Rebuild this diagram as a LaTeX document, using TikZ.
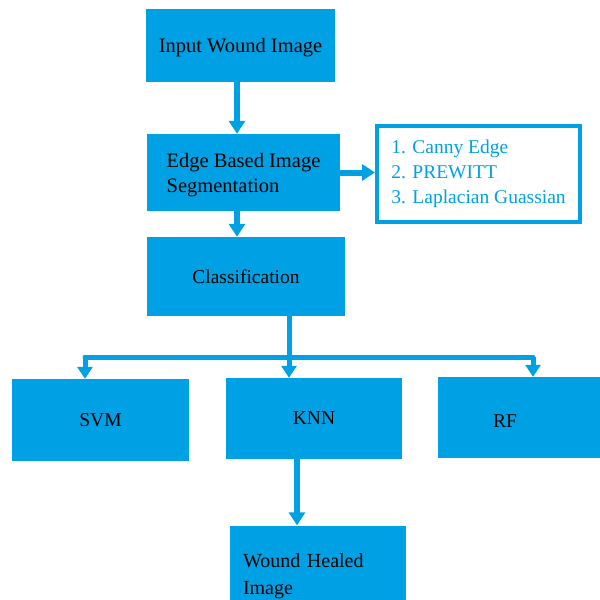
\documentclass[tikz,border=0pt]{standalone}
\usepackage{fontspec}
\setmainfont{Liberation Serif}
\usetikzlibrary{arrows.meta}
\definecolor{bl}{RGB}{0,161,228}
\tikzset{
  box/.style={fill=bl, draw=none, inner sep=0pt, font=\fontsize{19.5}{25}\selectfont, align=left},
  bigtext/.style={font=\fontsize{20.5}{25}\selectfont},
  listbox/.style={draw=bl, fill=white, line width=4pt, inner sep=0pt, text=bl, font=\fontsize{19.5}{25}\selectfont, align=left},
  arr/.style={draw=bl, line width=6pt, -{Triangle[length=13pt,width=16pt]}},
  arrs/.style={draw=bl, line width=5pt, -{Triangle[length=12pt,width=15pt]}},
  ln/.style={draw=bl, line width=5pt, line cap=round}
}
\begin{document}
\begin{tikzpicture}[x=1pt,y=-1pt]
\useasboundingbox (0,0) rectangle (600,600);
\node[box, bigtext, minimum width=189pt, minimum height=73pt, text depth=0pt] (in) at (240.5,45.5) {Input Wound Image};
\node[box, bigtext, minimum width=193pt, minimum height=77pt, text depth=0pt] (edge) at (243.5,172.5) {Edge Based Image\\Segmentation};
\node[listbox, minimum width=203pt, minimum height=96pt] (lst) at (478.5,174) {1. Canny Edge\\2. PREWITT\\3. Laplacian Guassian};
\node[box, minimum width=198pt, minimum height=79pt] (cls) at (246,276.5) {Classification};
\node[box, minimum width=177pt, minimum height=82pt, text depth=0pt] (svm) at (100.5,420) {SVM};
\node[box, minimum width=176pt, minimum height=81pt] (knn) at (314,418.5) {KNN};
\node[box, minimum width=162pt, minimum height=81pt, label={[name=rft, xshift=-14pt, yshift=-4pt, font=\fontsize{19.5}{25}\selectfont]center:RF}] (rf) at (519,417.5) {};
\node[box, minimum width=176pt, minimum height=101pt, text width=150pt, font=\fontsize{20}{26.5}\selectfont] (wh) at (318,576) {Wound Healed\\Image};
\coordinate (c1) at (237,0);
\coordinate (j) at (289,357);
\coordinate (jl) at (85,357);
\coordinate (jr) at (533,357);
\coordinate (k2) at (297,0);
\draw[arr] (in.south -| c1) -- (edge.north -| c1);
\draw[arr] (edge.south -| c1) -- (cls.north -| c1);
\draw[arr] (edge.east) -- (lst.west |- edge.east);
\draw[ln] (cls.south -| j) -- (j);
\draw[ln] (jl) -- (jr);
\draw[arrs] (jl) -- (svm.north -| jl);
\draw[arrs] (j) -- (knn.north -| j);
\draw[arrs] (jr) -- (rf.north -| jr);
\draw[arr] (knn.south -| k2) -- (wh.north -| k2);
\end{tikzpicture}
\end{document}
